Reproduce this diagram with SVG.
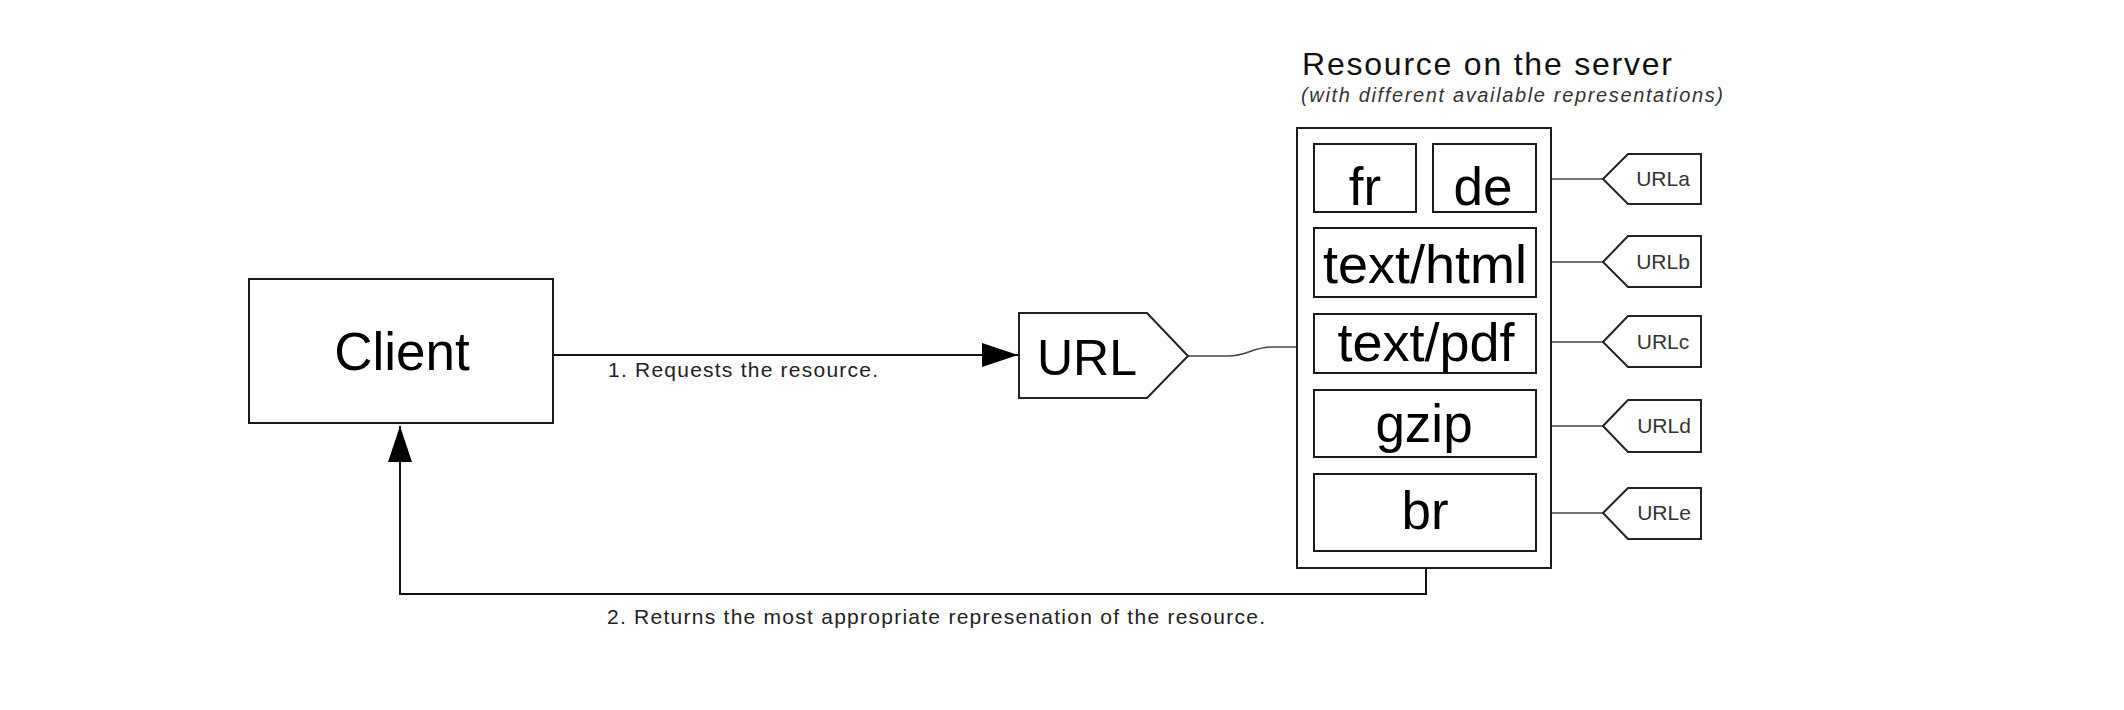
<svg xmlns="http://www.w3.org/2000/svg" width="2124" height="710" viewBox="0 0 2124 710">
<style>
  .box { fill: #fff; stroke: #1a1a1a; stroke-width: 2; }
  .tag { fill: #fff; stroke: #222; stroke-width: 2; }
  .big { font-family: "Liberation Sans", Arial, sans-serif; font-size: 53px; fill: #000; text-anchor: middle; }
  .lbl { font-family: "Liberation Sans", Arial, sans-serif; font-size: 21px; fill: #222; }
  .tl { font-family: "Liberation Sans", Arial, sans-serif; font-size: 21px; fill: #333; text-anchor: middle; }
  .edge { fill: none; stroke: #111; stroke-width: 2; }
  .thin { fill: none; stroke: #444; stroke-width: 1.6; }
</style>
<defs>
  <marker id="arr" markerUnits="userSpaceOnUse" markerWidth="36" markerHeight="24" refX="36" refY="12" orient="auto">
    <path d="M0,0 L36,12 L0,24 Z" fill="#000"/>
  </marker>
</defs>
<rect width="2124" height="710" fill="#fff"/>

<g id="connectors">
  <path class="edge" d="M553,355 L1018,355" marker-end="url(#arr)"/>
  <path class="edge" d="M1426,551 L1426,594 L400,594 L400,426" marker-end="url(#arr)"/>
  <path class="thin" d="M1188,356 L1228,356 C1248,356 1252,347 1272,347 L1297,347"/>
  <path class="thin" d="M1536,179 L1603,179"/>
  <path class="thin" d="M1536,262 L1603,262"/>
  <path class="thin" d="M1536,342 L1603,342"/>
  <path class="thin" d="M1536,426 L1603,426"/>
  <path class="thin" d="M1536,513 L1603,513"/>
  <text class="lbl" x="608" y="377" textLength="270" lengthAdjust="spacing">1. Requests the resource.</text>
  <text class="lbl" x="607" y="624" textLength="658" lengthAdjust="spacing">2. Returns the most appropriate represenation of the resource.</text>
</g>

<g id="client">
  <rect class="box" x="249" y="279" width="304" height="144"/>
  <text class="big" x="402" y="370">Client</text>
</g>

<g id="url">
  <polygon class="tag" points="1019,313 1147,313 1188,356 1147,398 1019,398"/>
  <text class="big" x="1087" y="375" style="font-size:50px">URL</text>
</g>

<g id="server">
  <text x="1302" y="75" font-family="Liberation Sans, Arial, sans-serif" font-size="32" fill="#111" textLength="370" lengthAdjust="spacing">Resource on the server</text>
  <text x="1301" y="102" font-family="Liberation Sans, Arial, sans-serif" font-size="20" font-style="italic" fill="#333" textLength="422" lengthAdjust="spacing">(with different available representations)</text>
  <rect class="box" x="1297" y="128" width="254" height="440"/>
</g>

<g id="rep-fr">
  <rect class="box" x="1314" y="144" width="102" height="68"/>
  <text class="big" x="1365" y="205">fr</text>
</g>
<g id="rep-de">
  <rect class="box" x="1433" y="144" width="103" height="68"/>
  <text class="big" x="1483" y="205">de</text>
</g>
<g id="rep-html">
  <rect class="box" x="1314" y="228" width="222" height="69"/>
  <text class="big" x="1425" y="283" style="font-size:54px">text/html</text>
</g>
<g id="rep-pdf">
  <rect class="box" x="1314" y="314" width="222" height="59"/>
  <text class="big" x="1426" y="361" style="font-size:54px">text/pdf</text>
</g>
<g id="rep-gzip">
  <rect class="box" x="1314" y="390" width="222" height="67"/>
  <text class="big" x="1424" y="442">gzip</text>
</g>
<g id="rep-br">
  <rect class="box" x="1314" y="474" width="222" height="77"/>
  <text class="big" x="1425" y="529">br</text>
</g>

<g id="url-a">
  <polygon class="tag" points="1603,179 1628,154 1701,154 1701,204 1628,204"/>
  <text class="tl" x="1663" y="186">URLa</text>
</g>
<g id="url-b">
  <polygon class="tag" points="1603,262 1628,236 1701,236 1701,287 1628,287"/>
  <text class="tl" x="1663" y="269">URLb</text>
</g>
<g id="url-c">
  <polygon class="tag" points="1603,342 1628,316 1701,316 1701,367 1628,367"/>
  <text class="tl" x="1663" y="349">URLc</text>
</g>
<g id="url-d">
  <polygon class="tag" points="1603,426 1628,400 1701,400 1701,452 1628,452"/>
  <text class="tl" x="1664" y="433">URLd</text>
</g>
<g id="url-e">
  <polygon class="tag" points="1603,513 1628,488 1701,488 1701,539 1628,539"/>
  <text class="tl" x="1664" y="520">URLe</text>
</g>
</svg>
